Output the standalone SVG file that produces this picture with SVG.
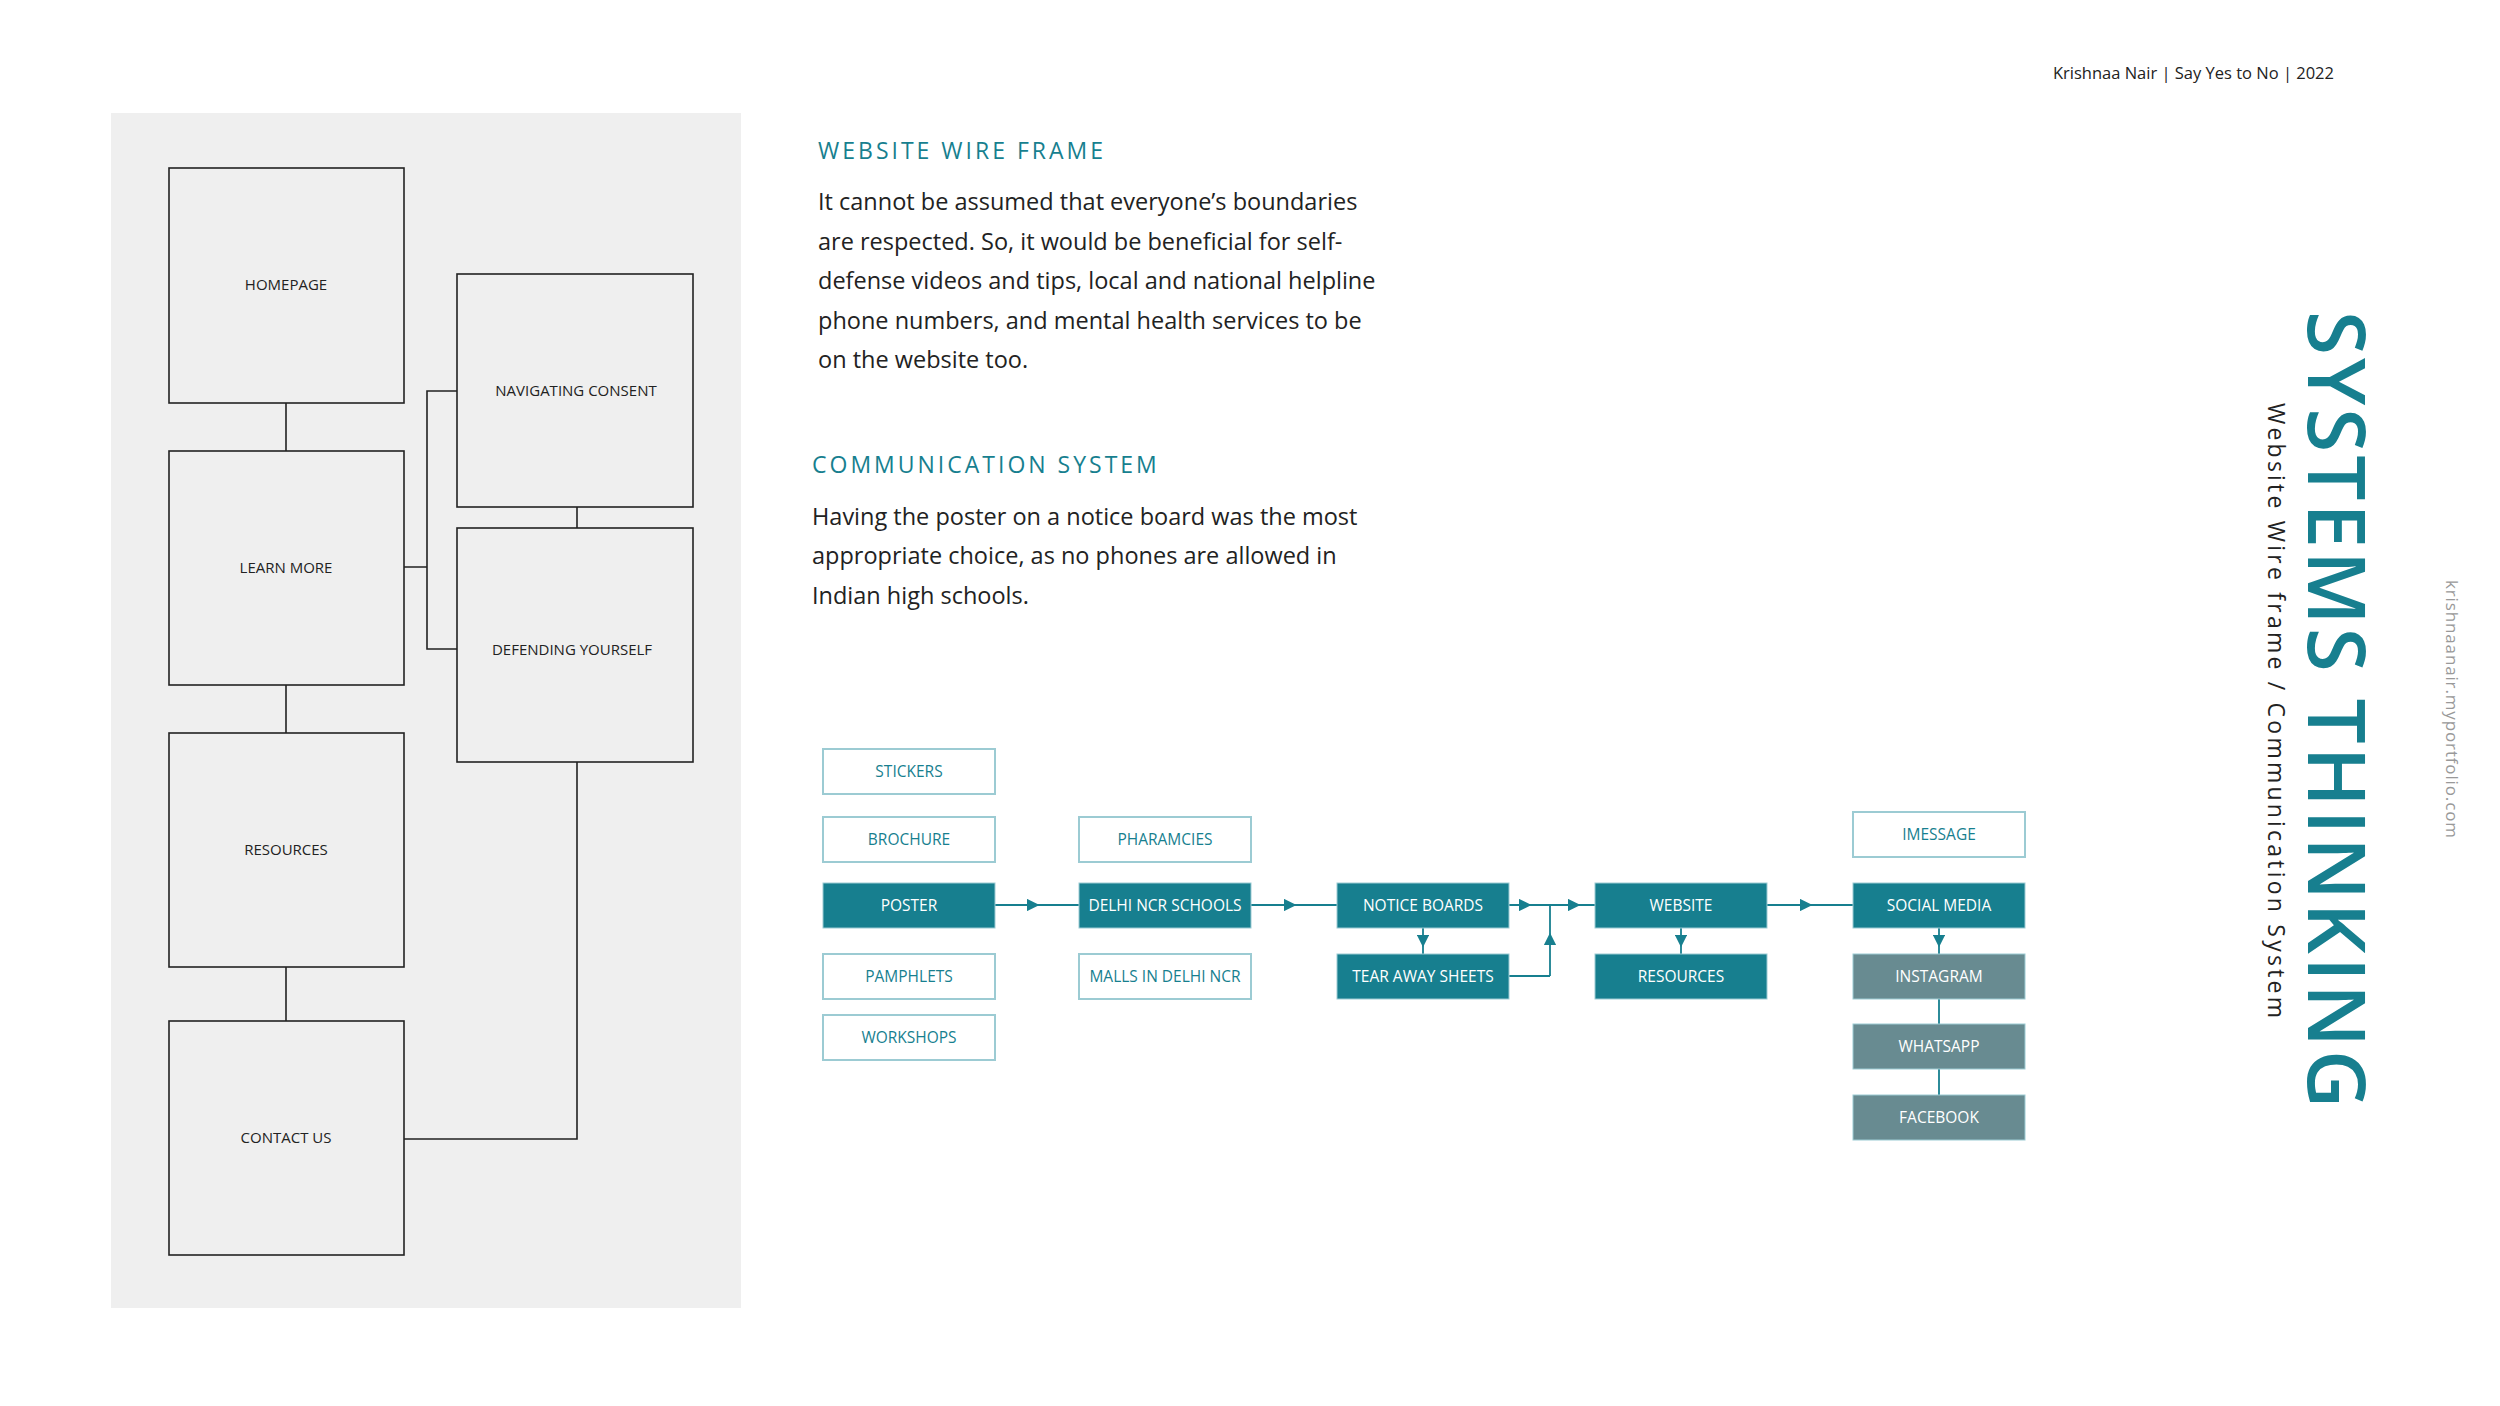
<svg xmlns="http://www.w3.org/2000/svg" width="2500" height="1406" viewBox="0 0 2500 1406">
<style>
text{font-family:"Open Sans","Liberation Sans",sans-serif}
.wf rect{fill:#efefef;stroke:#222;stroke-width:1.6}
.wf text{font-size:15px;fill:#222;text-anchor:middle}
.wl{fill:none;stroke:#222;stroke-width:1.6}
.o rect{fill:#fff;stroke:#9ccbd3;stroke-width:2}
.o text{fill:#177f8f}
.t rect{fill:#177f8f;stroke:#9ccbd3;stroke-width:1}
.g rect{fill:#688b91;stroke:#9ccbd3;stroke-width:1}
.t text,.g text{fill:#fff}
.f text{font-size:15.5px;text-anchor:middle}
.cl{fill:none;stroke:#177f8f;stroke-width:1.8}
.h{font-size:23px;fill:#177f8f;letter-spacing:3px}
.b{font-size:23.5px;fill:#222}
</style>
<defs>
<marker id="a" viewBox="0 0 10 10" refX="5" refY="5" markerWidth="7" markerHeight="7" orient="auto"><path d="M0,0L10,5L0,10z" fill="#177f8f"/></marker>
</defs>
<rect x="111" y="113" width="630" height="1195" fill="#efefef"/>
<text x="2334" y="79" font-size="16.5" fill="#222" text-anchor="end">Krishnaa Nair | Say Yes to No | 2022</text>
<g class="wl">
<path d="M286,403V451M286,685V733M286,967V1021"/>
<path d="M404,567H427M457,391H427V649H457"/>
<path d="M577,507V528M577,762V1139H404"/>
</g>
<g class="wf">
<g id="homepage"><rect x="169" y="168" width="235" height="235"/><text x="286" y="290">HOMEPAGE</text></g>
<g id="learnmore"><rect x="169" y="451" width="235" height="234"/><text x="286" y="573">LEARN MORE</text></g>
<g id="resources-w"><rect x="169" y="733" width="235" height="234"/><text x="286" y="855">RESOURCES</text></g>
<g id="contact"><rect x="169" y="1021" width="235" height="234"/><text x="286" y="1143">CONTACT US</text></g>
<g id="navigating"><rect x="457" y="274" width="236" height="233"/><text x="576" y="396">NAVIGATING CONSENT</text></g>
<g id="defending"><rect x="457" y="528" width="236" height="234"/><text x="572" y="655">DEFENDING YOURSELF</text></g>
</g>
<text class="h" x="818" y="159">WEBSITE WIRE FRAME</text>
<text class="b"><tspan x="818" y="210">It cannot be assumed that everyone’s boundaries</tspan><tspan x="818" y="250">are respected. So, it would be beneficial for self-</tspan><tspan x="818" y="289">defense videos and tips, local and national helpline</tspan><tspan x="818" y="329">phone numbers, and mental health services to be</tspan><tspan x="818" y="368">on the website too.</tspan></text>
<text class="h" x="812" y="473">COMMUNICATION SYSTEM</text>
<text class="b"><tspan x="812" y="525">Having the poster on a notice board was the most</tspan><tspan x="812" y="564">appropriate choice, as no phones are allowed in</tspan><tspan x="812" y="604">Indian high schools.</tspan></text>
<g id="connectors" class="cl">
<path d="M995,905H1033H1079" marker-mid="url(#a)"/>
<path d="M1251,905H1290H1337" marker-mid="url(#a)"/>
<path d="M1509,905H1525H1574H1595" marker-mid="url(#a)"/>
<path d="M1509,976H1550"/>
<path d="M1550,976V939V905" marker-mid="url(#a)"/>
<path d="M1767,905H1806H1853" marker-mid="url(#a)"/>
<path d="M1423,928V941V954" marker-mid="url(#a)"/>
<path d="M1681,928V941V954" marker-mid="url(#a)"/>
<path d="M1939,928V941V954" marker-mid="url(#a)"/>
<path d="M1939,999V1024M1939,1069V1095"/>
</g>
<g class="f">
<g id="stickers" class="o"><rect x="823" y="749" width="172" height="45"/><text x="909" y="777">STICKERS</text></g>
<g id="brochure" class="o"><rect x="823" y="817" width="172" height="45"/><text x="909" y="845">BROCHURE</text></g>
<g id="poster" class="t"><rect x="823" y="883" width="172" height="45"/><text x="909" y="911">POSTER</text></g>
<g id="pamphlets" class="o"><rect x="823" y="954" width="172" height="45"/><text x="909" y="982">PAMPHLETS</text></g>
<g id="workshops" class="o"><rect x="823" y="1015" width="172" height="45"/><text x="909" y="1043">WORKSHOPS</text></g>
<g id="pharmacies" class="o"><rect x="1079" y="817" width="172" height="45"/><text x="1165" y="845">PHARAMCIES</text></g>
<g id="delhi" class="t"><rect x="1079" y="883" width="172" height="45"/><text x="1165" y="911">DELHI NCR SCHOOLS</text></g>
<g id="malls" class="o"><rect x="1079" y="954" width="172" height="45"/><text x="1165" y="982">MALLS IN DELHI NCR</text></g>
<g id="notice" class="t"><rect x="1337" y="883" width="172" height="45"/><text x="1423" y="911">NOTICE BOARDS</text></g>
<g id="tear" class="t"><rect x="1337" y="954" width="172" height="45"/><text x="1423" y="982">TEAR AWAY SHEETS</text></g>
<g id="website" class="t"><rect x="1595" y="883" width="172" height="45"/><text x="1681" y="911">WEBSITE</text></g>
<g id="resources" class="t"><rect x="1595" y="954" width="172" height="45"/><text x="1681" y="982">RESOURCES</text></g>
<g id="imessage" class="o"><rect x="1853" y="812" width="172" height="45"/><text x="1939" y="840">IMESSAGE</text></g>
<g id="social" class="t"><rect x="1853" y="883" width="172" height="45"/><text x="1939" y="911">SOCIAL MEDIA</text></g>
<g id="instagram" class="g"><rect x="1853" y="954" width="172" height="45"/><text x="1939" y="982">INSTAGRAM</text></g>
<g id="whatsapp" class="g"><rect x="1853" y="1024" width="172" height="45"/><text x="1939" y="1052">WHATSAPP</text></g>
<g id="facebook" class="g"><rect x="1853" y="1095" width="172" height="45"/><text x="1939" y="1123">FACEBOOK</text></g>
</g>
<text transform="translate(2308,311) rotate(90)" font-size="80" font-weight="600" fill="#177f8f" textLength="797" lengthAdjust="spacing">SYSTEMS THINKING</text>
<text transform="translate(2268,403) rotate(90)" font-size="23" fill="#222" textLength="615" lengthAdjust="spacing">Website Wire frame / Communication System</text>
<text transform="translate(2446,580) rotate(90)" font-size="17" fill="#999" textLength="258" lengthAdjust="spacing">krishnaanair.myportfolio.com</text>
</svg>
